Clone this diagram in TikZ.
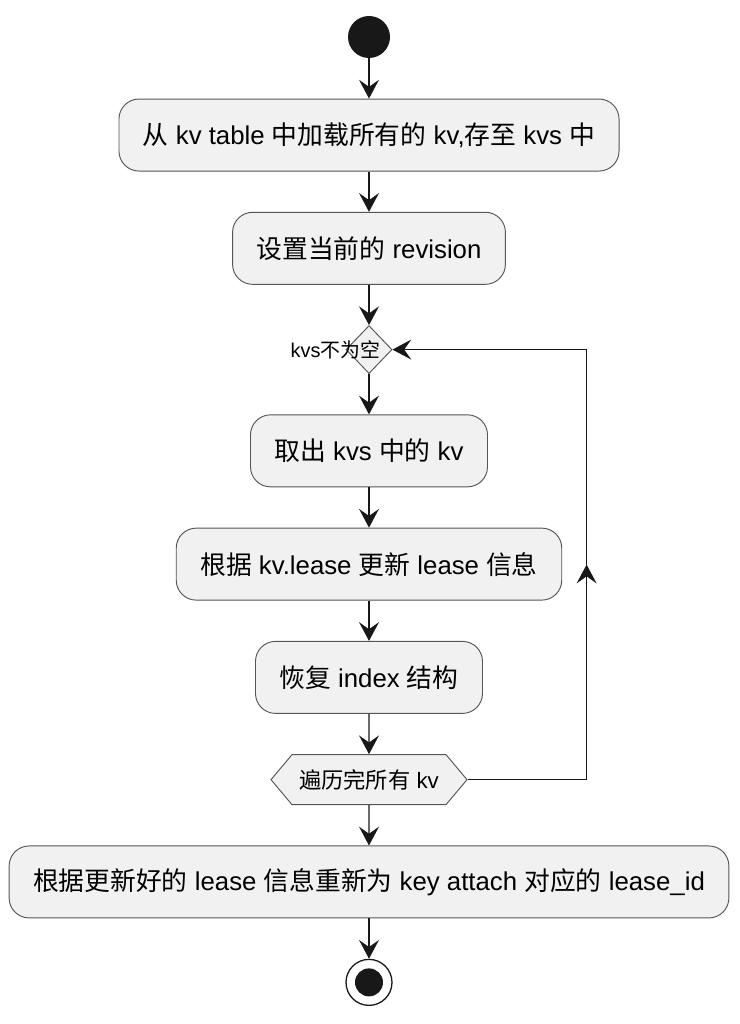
\documentclass[tikz,border=0pt]{standalone}
\usepackage{fontspec}
\setmainfont{Liberation Sans}
\newfontfamily\zhfont{Noto Sans CJK SC}
\newcommand{\zh}[1]{{\zhfont #1}}
\usetikzlibrary{arrows.meta, positioning, calc, shapes.geometric, shapes.symbols}
\definecolor{actfill}{HTML}{F1F1F1}
\definecolor{actline}{HTML}{555555}
\definecolor{flow}{HTML}{181818}
\tikzset{
  act/.style={draw=actline, line width=0.8pt, rounded corners=0.6cm, fill=actfill, minimum height=2.16cm, inner xsep=0.72cm, align=center, font=\fontsize{22}{26}\selectfont},
  cond/.style={draw=actline, line width=0.8pt, diamond, fill=actfill, minimum width=1.38cm, minimum height=1.44cm, inner sep=0pt},
  hexa/.style={draw=actline, line width=0.8pt, signal, signal to=west and east, signal pointer angle=100, fill=actfill, minimum height=1.5cm, minimum width=5.88cm, inner xsep=0pt, font=\fontsize{19}{23}\selectfont},
  startdot/.style={circle, fill=flow, minimum size=1.26cm, inner sep=0pt},
  enddot/.style={circle, draw=flow, line width=1.1pt, fill=white, minimum size=1.38cm, inner sep=0pt},
  arr/.style={-{Stealth[length=16pt, width=17pt, inset=6pt]}, line width=1.1pt, draw=flow},
  note/.style={font=\fontsize{17}{20}\selectfont},
}
\begin{document}
\begin{tikzpicture}[node distance=1.21cm]
    \useasboundingbox (0,0) rectangle (22.17,-30.72);
    \node[startdot] (start) at (11.07,-1.11) {};
    \node[act, below=of start] (load) {\zh{从} kv table \zh{中加载所有的} kv,\zh{存至} kvs \zh{中}};
    \node[act, below=of load] (rev) {\zh{设置当前的} revision};
    \node[cond, below=of rev] (nonempty) {};
    \node[note, anchor=east] (nonemptytxt) at ([xshift=-0.24cm]nonempty.east) {kvs\zh{不为空}};
    \node[act, below=of nonempty] (take) {\zh{取出} kvs \zh{中的} kv};
    \node[act, below=of take] (lease) {\zh{根据} kv.lease \zh{更新} lease \zh{信息}};
    \node[act, below=of lease] (index) {\zh{恢复} index \zh{结构}};
    \node[hexa, below=of index] (done) {\zh{遍历完所有} kv};
    \node[act, below=of done] (attach) {\zh{根据更新好的} lease \zh{信息重新为} key attach \zh{对应的} lease\_id};
    \node[enddot, below=of attach] (stop) {};
    \node[circle, fill=flow, minimum size=0.84cm, inner sep=0pt] (stopin) at (stop) {};
    \draw[arr] (start) -- (load);
    \draw[arr] (load) -- (rev);
    \draw[arr] (rev) -- (nonempty);
    \draw[arr] (nonempty) -- (take);
    \draw[arr] (take) -- (lease);
    \draw[arr] (lease) -- (index);
    \draw[arr] (index) -- (done);
    \draw[arr] (done) -- (attach);
    \draw[arr] (attach) -- (stop);
    % loop back
    \coordinate (loopb) at ([xshift=3.57cm]done.east);
    \coordinate (loopt) at (loopb |- nonempty.east);
    \draw[arr] (done.east) -- (loopb) -- (loopt) -- (nonempty.east);
    \draw[arr] (loopb) -- ($(loopb)!0.5!(loopt)$);
  \end{tikzpicture}
\end{document}
